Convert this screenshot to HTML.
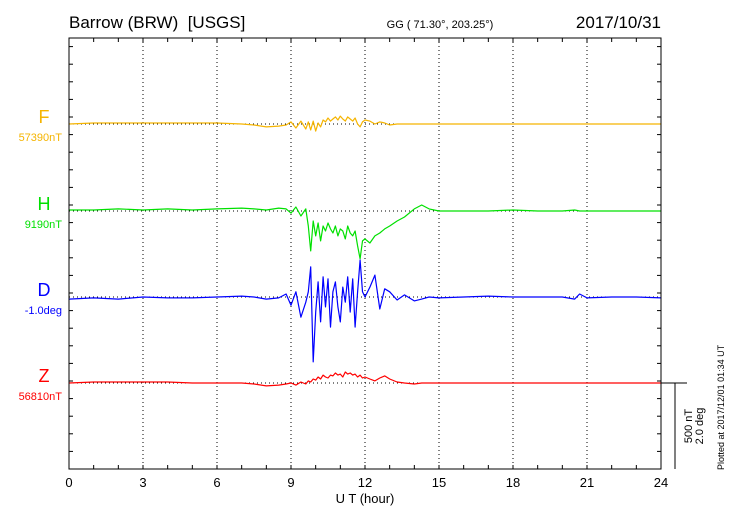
<!DOCTYPE html>
<html><head><meta charset="utf-8"><style>
body{margin:0;background:#fff;}
svg text{font-family:"Liberation Sans",sans-serif;}
</style></head><body>
<svg id="chart" width="730" height="520" viewBox="0 0 730 520" xmlns="http://www.w3.org/2000/svg">
<rect width="730" height="520" fill="#fff"/>
<text x="69" y="28" font-size="17">Barrow (BRW)&#160; [USGS]</text>
<text x="440" y="28" font-size="11" text-anchor="middle">GG ( 71.30°, 203.25°)</text>
<text x="661" y="28" font-size="17" text-anchor="end">2017/10/31</text>
<g id="grid"></g>
<g id="series"></g>
<rect x="69" y="38" width="592" height="431" fill="none" stroke="#000" stroke-width="1"/>
<g id="axes"></g>
<text x="365" y="503" font-size="13" text-anchor="middle">U T (hour)</text>
<line x1="661" y1="383" x2="687" y2="383" stroke="#000"/>
<line x1="675" y1="383" x2="675" y2="469" stroke="#000"/>
<text transform="translate(692,426) rotate(-90)" font-size="11" text-anchor="middle">500 nT</text>
<text transform="translate(703,426) rotate(-90)" font-size="11" text-anchor="middle">2.0 deg</text>
<text transform="translate(724,470) rotate(-90)" font-size="9">Plotted at 2017/12/01 01:34 UT</text>
</svg>
<script>
const times=[0,1,2,3,4,5,6,7,7.5,8,8.5,8.8,9,9.2,9.4,9.6,9.7,9.8,9.9,10,10.1,10.2,10.3,10.4,10.5,10.6,10.7,10.8,10.9,11,11.1,11.2,11.3,11.4,11.5,11.6,11.7,11.8,11.9,12,12.2,12.4,12.6,12.8,13,13.3,13.6,14,14.3,14.6,15,16,17,18,19,20,20.5,20.7,21,22,23,24];
const fValues=[0,6,6,6,6,6,6,0,-6,-17,-12,-6,12,-23,17,-29,12,-35,17,-41,6,-17,23,12,35,17,29,41,23,46,29,17,41,29,17,35,0,-17,12,23,17,0,12,6,-6,0,0,0,0,0,0,0,0,0,0,0,0,0,0,0,0,0];
const hValues=[6,6,12,6,12,6,12,17,12,6,17,12,-12,23,-29,12,-87,-232,-58,-145,-70,-174,-87,-116,-70,-104,-128,-87,-145,-104,-116,-162,-87,-128,-145,-116,-203,-278,-174,-162,-186,-145,-128,-104,-87,-58,-35,12,35,12,0,0,0,6,0,0,6,0,0,0,0,0];
const dValues=[-0.05,-0.02,-0.05,0,-0.02,-0.02,0,0.02,0,-0.05,-0.02,0.07,-0.19,0.12,-0.47,-0.12,0.12,0.70,-1.51,-0.35,0.35,-0.58,0.47,-0.23,0.42,-0.70,0.12,0.35,-0.23,-0.58,0.23,-0.12,0.47,-0.35,0.42,-0.70,0.12,0.86,0.12,0,0.23,0.51,-0.28,0.19,0.12,-0.07,0.05,-0.09,-0.05,0,-0.02,0,0.02,0,0,0,-0.05,0.07,-0.02,0,0,-0.02];
const zValues=[0,6,6,6,6,0,0,0,-6,-17,-12,-6,0,-12,6,-6,12,6,23,17,35,23,46,35,29,46,41,58,46,52,35,64,52,58,46,52,35,46,29,35,23,12,29,41,23,6,0,-6,0,0,0,0,0,0,0,0,0,0,0,0,0,0];
const xTickLabels=["0","3","6","9","12","15","18","21","24"];
const seriesNames=["F","H","D","Z"];
const baseLabels=["57390nT","9190nT","-1.0deg","56810nT"];
const colors=["#f5b400","#00e000","#0000ff","#ff0000"];

const NS="http://www.w3.org/2000/svg";
const X0=69,X1=661,Y0=38,Y1=469;
const xs=h=>X0+h*(X1-X0)/24;
const baseY=[124,211,297,383];
const pxPerUnit=[86/500,86/500,86/2,86/500];
const ys=(i,v)=>baseY[i]-v*pxPerUnit[i];
function mk(tag,attrs,parent){const e=document.createElementNS(NS,tag);for(const k in attrs)e.setAttribute(k,attrs[k]);parent.appendChild(e);return e;}
const grid=document.getElementById('grid'),axes=document.getElementById('axes'),ser=document.getElementById('series');
for(let i=1;i<8;i++){const l=mk('line',{x1:xs(i*3),x2:xs(i*3),y1:Y0,y2:Y1,stroke:'#000','stroke-dasharray':'1,3'},grid);

}
baseY.forEach((b,i)=>{const l=mk('line',{x1:X0,x2:X1,y1:b,y2:b,stroke:'#000','stroke-dasharray':'1,3'},grid);

});
for(let h=0;h<=24;h++){const x=xs(h);
const t1=mk('line',{x1:x,x2:x,y1:Y1,y2:Y1-4,stroke:'#000'},axes);


const t2=mk('line',{x1:x,x2:x,y1:Y0,y2:Y0+4,stroke:'#000'},axes);

}
xTickLabels.forEach((s,i)=>{const t=mk('text',{x:xs(+s),y:487,'font-size':13,'text-anchor':'middle'},axes);t.textContent=s;

});
for(let y=Y1;y>Y0+5;y-=17.6){
const a=mk('line',{x1:X0,x2:X0+4,y1:y,y2:y,stroke:'#000'},axes);


const b=mk('line',{x1:X1,x2:X1-4,y1:y,y2:y,stroke:'#000'},axes);

}
[fValues,hValues,dValues,zValues].forEach((vals,i)=>{
const d=vals.map((v,k)=>(k?'L':'M')+xs(times[k]).toFixed(1)+','+ys(i,v).toFixed(1)).join('');
const p=mk('path',{d:d,fill:'none',stroke:colors[i],'stroke-width':1.2,'stroke-linejoin':'round'},ser);


const t=mk('text',{x:44,y:baseY[i]-1,'font-size':18,'text-anchor':'middle',fill:colors[i]},axes);t.textContent=seriesNames[i];


const s=mk('text',{x:62,y:baseY[i]+17,'font-size':11,'text-anchor':'end',fill:colors[i]},axes);s.textContent=baseLabels[i];


});
</script>
</body></html>
